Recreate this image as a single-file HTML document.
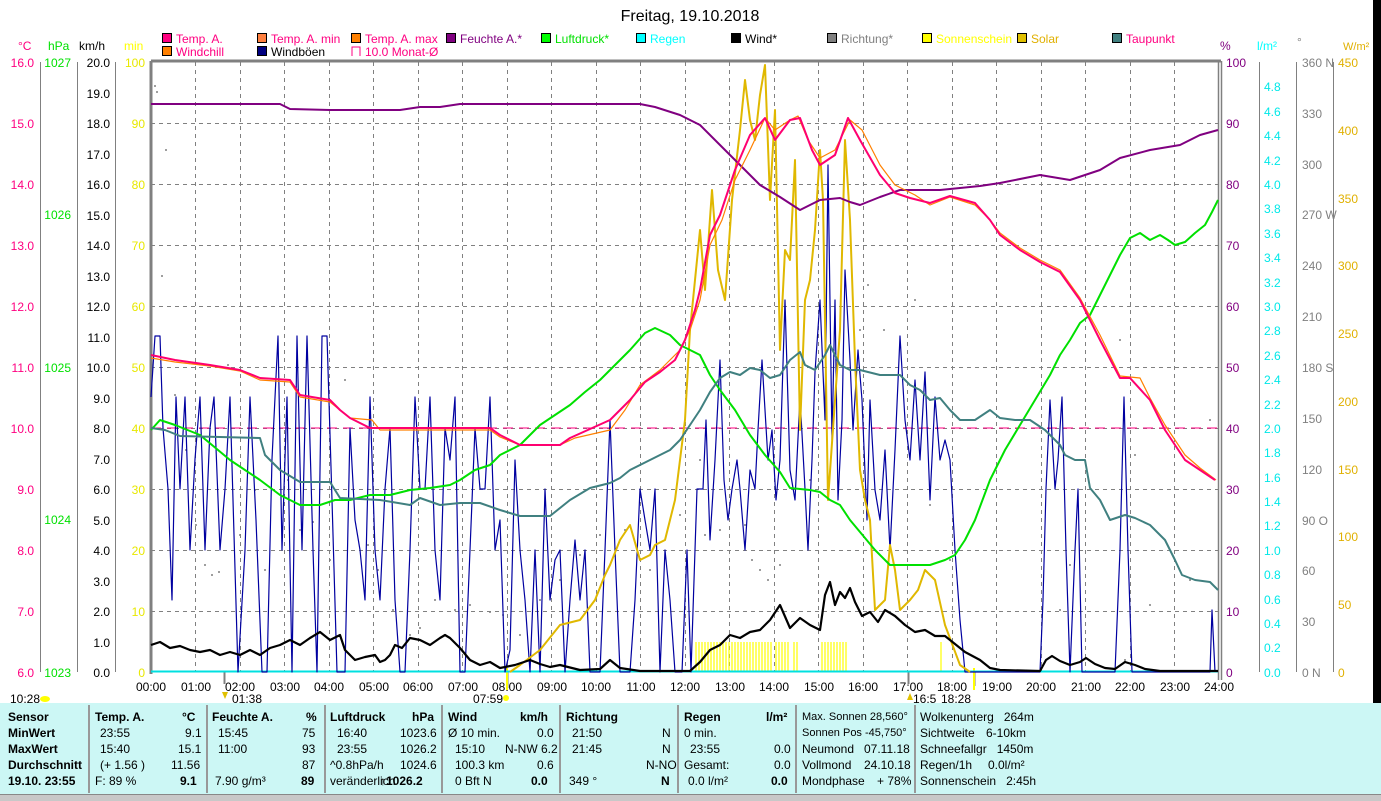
<!DOCTYPE html>
<html><head><meta charset="utf-8"><style>
body{margin:0;width:1381px;height:800px;overflow:hidden;background:#fff;font-family:"Liberation Sans",sans-serif;}
.t{position:absolute;font-size:12px;white-space:nowrap;line-height:13px}
</style></head><body>
<svg width="1381" height="800" style="position:absolute;left:0;top:0" font-family="Liberation Sans, sans-serif" font-size="12">
<rect x="1373" y="0" width="8" height="703" fill="#000"/>
<text x="690" y="21" font-size="16" text-anchor="middle">Freitag, 19.10.2018</text>
<g stroke="#000" stroke-width="1">
<rect x="162.5" y="33.5" width="9" height="9" fill="#ff0080"/><rect x="257.5" y="33.5" width="9" height="9" fill="#ff8040"/><rect x="351.5" y="33.5" width="9" height="9" fill="#ff8000"/><rect x="446.5" y="33.5" width="9" height="9" fill="#800080"/><rect x="541.5" y="33.5" width="9" height="9" fill="#00ff00"/><rect x="636.5" y="33.5" width="9" height="9" fill="#00ffff"/><rect x="731.5" y="33.5" width="9" height="9" fill="#000"/><rect x="827.5" y="33.5" width="9" height="9" fill="#808080"/><rect x="922.5" y="33.5" width="9" height="9" fill="#ffff00"/><rect x="1017.5" y="33.5" width="9" height="9" fill="#e0c000"/><rect x="1112.5" y="33.5" width="9" height="9" fill="#408080"/>
<rect x="162.5" y="46.5" width="9" height="9" fill="#ff8000"/><rect x="257.5" y="46.5" width="9" height="9" fill="#000080"/>
</g>
<path d="M352 56V47H360V56" fill="none" stroke="#ff0080"/>
<g font-size="12">
<text x="176" y="43" fill="#ff0080">Temp. A.</text><text x="271" y="43" fill="#ff0080">Temp. A. min</text><text x="365" y="43" fill="#ff0080">Temp. A. max</text><text x="460" y="43" fill="#800080">Feuchte A.*</text><text x="555" y="43" fill="#00e000">Luftdruck*</text><text x="650" y="43" fill="#00ffff">Regen</text><text x="745" y="43">Wind*</text><text x="841" y="43" fill="#808080">Richtung*</text><text x="936" y="43" fill="#ffff00">Sonnenschein</text><text x="1031" y="43" fill="#e0b000">Solar</text><text x="1126" y="43" fill="#ff0080">Taupunkt</text>
<text x="176" y="56" fill="#ff0080">Windchill</text><text x="271" y="56">Windböen</text><text x="365" y="56" fill="#ff0080">10.0 Monat-Ø</text>
<text x="18" y="50" fill="#ff0080">°C</text><text x="48" y="50" fill="#00e000">hPa</text><text x="79" y="50">km/h</text><text x="124" y="50" fill="#ffff00">min</text>
<text x="1220" y="50" fill="#800080">%</text><text x="1257" y="50" fill="#00ffff">l/m²</text><text x="1297" y="46" fill="#808080">°</text><text x="1343" y="50" fill="#e0b000" font-size="11">W/m²</text>
</g>
<g stroke="#808080" stroke-dasharray="4,4" stroke-width="1">
<path d="M151 123.5H1218M151 184.5H1218M151 245.5H1218M151 306.5H1218M151 367.5H1218M151 428.5H1218M151 489.5H1218M151 550.5H1218M151 611.5H1218"/>
<path d="M195.5 62V672M240.5 62V672M284.5 62V672M329.5 62V672M373.5 62V672M418.5 62V672M462.5 62V672M507.5 62V672M551.5 62V672M596.5 62V672M640.5 62V672M685.5 62V672M729.5 62V672M774.5 62V672M818.5 62V672M863.5 62V672M907.5 62V672M952.5 62V672M996.5 62V672M1041.5 62V672M1085.5 62V672M1130.5 62V672M1174.5 62V672"/>
</g>
<g stroke="#808080" fill="none">
<path d="M151 61H1221M151 61V674" stroke-width="3"/>
<path d="M1218.5 61V680M1221.5 61V680" stroke-width="1.5"/>
<path d="M40.5 62V672M77.5 62V672M115.5 62V672M1259.5 62V672M1296.5 62V672M1333.5 62V672"/>
</g>
<g text-anchor="end" font-size="12">
<g fill="#ff0080"><text x="34" y="67">16.0</text><text x="34" y="128">15.0</text><text x="34" y="189">14.0</text><text x="34" y="250">13.0</text><text x="34" y="311">12.0</text><text x="34" y="372">11.0</text><text x="34" y="433">10.0</text><text x="34" y="494">9.0</text><text x="34" y="555">8.0</text><text x="34" y="616">7.0</text><text x="34" y="677">6.0</text></g>
<g fill="#00e000"><text x="71" y="67">1027</text><text x="71" y="219">1026</text><text x="71" y="372">1025</text><text x="71" y="524">1024</text><text x="71" y="677">1023</text></g>
<g><text x="110" y="67">20.0</text><text x="110" y="98">19.0</text><text x="110" y="128">18.0</text><text x="110" y="159">17.0</text><text x="110" y="189">16.0</text><text x="110" y="220">15.0</text><text x="110" y="250">14.0</text><text x="110" y="281">13.0</text><text x="110" y="311">12.0</text><text x="110" y="342">11.0</text><text x="110" y="372">10.0</text><text x="110" y="403">9.0</text><text x="110" y="433">8.0</text><text x="110" y="464">7.0</text><text x="110" y="494">6.0</text><text x="110" y="525">5.0</text><text x="110" y="555">4.0</text><text x="110" y="586">3.0</text><text x="110" y="616">2.0</text><text x="110" y="647">1.0</text><text x="110" y="677">0.0</text></g>
<g fill="#e8e800"><text x="145" y="67">100</text><text x="145" y="128">90</text><text x="145" y="189">80</text><text x="145" y="250">70</text><text x="145" y="311">60</text><text x="145" y="372">50</text><text x="145" y="433">40</text><text x="145" y="494">30</text><text x="145" y="555">20</text><text x="145" y="616">10</text><text x="145" y="677">0</text></g>
</g>
<g font-size="12">
<g fill="#800080"><text x="1226" y="67">100</text><text x="1226" y="128">90</text><text x="1226" y="189">80</text><text x="1226" y="250">70</text><text x="1226" y="311">60</text><text x="1226" y="372">50</text><text x="1226" y="433">40</text><text x="1226" y="494">30</text><text x="1226" y="555">20</text><text x="1226" y="616">10</text><text x="1226" y="677">0</text></g>
<g fill="#00e8e8"><text x="1264" y="91">4.8</text><text x="1264" y="116">4.6</text><text x="1264" y="140">4.4</text><text x="1264" y="165">4.2</text><text x="1264" y="189">4.0</text><text x="1264" y="213">3.8</text><text x="1264" y="238">3.6</text><text x="1264" y="262">3.4</text><text x="1264" y="287">3.2</text><text x="1264" y="311">3.0</text><text x="1264" y="335">2.8</text><text x="1264" y="360">2.6</text><text x="1264" y="384">2.4</text><text x="1264" y="409">2.2</text><text x="1264" y="433">2.0</text><text x="1264" y="457">1.8</text><text x="1264" y="482">1.6</text><text x="1264" y="506">1.4</text><text x="1264" y="530">1.2</text><text x="1264" y="555">1.0</text><text x="1264" y="579">0.8</text><text x="1264" y="604">0.6</text><text x="1264" y="628">0.4</text><text x="1264" y="652">0.2</text><text x="1264" y="677">0.0</text></g>
<g fill="#808080"><text x="1302" y="67">360 N</text><text x="1302" y="118">330</text><text x="1302" y="169">300</text><text x="1302" y="219">270 W</text><text x="1302" y="270">240</text><text x="1302" y="321">210</text><text x="1302" y="372">180 S</text><text x="1302" y="423">150</text><text x="1302" y="474">120</text><text x="1302" y="525">90 O</text><text x="1302" y="575">60</text><text x="1302" y="626">30</text><text x="1302" y="677">0 N</text></g>
<g fill="#e0b000"><text x="1338" y="67">450</text><text x="1338" y="135">400</text><text x="1338" y="203">350</text><text x="1338" y="270">300</text><text x="1338" y="338">250</text><text x="1338" y="406">200</text><text x="1338" y="474">150</text><text x="1338" y="541">100</text><text x="1338" y="609">50</text><text x="1338" y="677">0</text></g>
</g>
<g text-anchor="middle" font-size="12">
<text x="151" y="691">00:00</text><text x="196" y="691">01:00</text><text x="240" y="691">02:00</text><text x="285" y="691">03:00</text><text x="329" y="691">04:00</text><text x="374" y="691">05:00</text><text x="418" y="691">06:00</text><text x="463" y="691">07:00</text><text x="507" y="691">08:00</text><text x="552" y="691">09:00</text><text x="596" y="691">10:00</text><text x="641" y="691">11:00</text><text x="685" y="691">12:00</text><text x="730" y="691">13:00</text><text x="774" y="691">14:00</text><text x="819" y="691">15:00</text><text x="863" y="691">16:00</text><text x="908" y="691">17:00</text><text x="952" y="691">18:00</text><text x="997" y="691">19:00</text><text x="1041" y="691">20:00</text><text x="1086" y="691">21:00</text><text x="1130" y="691">22:00</text><text x="1175" y="691">23:00</text><text x="1219" y="691">24:00</text>
</g>
<g font-size="12"><text x="10" y="703">10:28</text><text x="232" y="703">01:38</text><text x="473" y="703">07:59</text><text x="913" y="703">16:5</text><text x="941" y="703">18:28</text></g>
<ellipse cx="45" cy="699" rx="5" ry="3" fill="#ffff00"/><circle cx="506" cy="698" r="3" fill="#ffff00"/><path d="M222 692l3 7 3-7z" fill="#e0c000"/><path d="M907 700l3-7 3 7z" fill="#e0c000"/>
<path d="M224.5 672V684M507.5 672V688M908.5 672V684M974.5 672V686" stroke="#808080" stroke-width="2"/>
<path d="M507 668V690M974 668V690" stroke="#ffff00" stroke-width="2"/>
<g stroke="#ffff00" stroke-width="1.2">
<path d="M696 642V672M699 642V672M702 642V672M705 642V672M708 642V672M711 642V672M714 642V672M717 642V672M720 642V672M723 642V672M726 642V672M729 642V672M732 642V672M735 642V672M738 642V672M741 642V672M744 642V672M747 642V672M750 642V672M753 642V672M756 642V672M759 642V672M762 642V672M765 642V672M768 642V672M771 642V672M776 642V672M779 642V672M782 642V672M785 642V672M788 642V672M794 642V672M797 642V672M822 642V672M825 642V672M828 642V672M831 642V672M834 642V672M837 642V672M840 642V672M843 642V672M846 642V672M941 642V672"/>
</g>
<path d="M151 428H1218" stroke="#ff0080" stroke-dasharray="10,6" stroke-width="1"/>
<path d="M151 671.5H1218" stroke="#00e0e0" stroke-width="2"/>
<g fill="#808080">
<circle cx="155" cy="86" r="1"/><circle cx="157" cy="92" r="1"/><circle cx="166" cy="150" r="1"/><circle cx="162" cy="276" r="1"/><circle cx="175" cy="395" r="1"/><circle cx="186" cy="450" r="1"/><circle cx="196" cy="525" r="1"/><circle cx="205" cy="565" r="1"/><circle cx="212" cy="575" r="1"/><circle cx="219" cy="572" r="1"/><circle cx="228" cy="365" r="1"/><circle cx="240" cy="535" r="1"/><circle cx="255" cy="490" r="1"/><circle cx="265" cy="570" r="1"/><circle cx="288" cy="480" r="1"/><circle cx="300" cy="530" r="1"/><circle cx="313" cy="522" r="1"/><circle cx="330" cy="560" r="1"/><circle cx="345" cy="380" r="1"/><circle cx="368" cy="545" r="1"/><circle cx="378" cy="570" r="1"/><circle cx="393" cy="610" r="1"/><circle cx="410" cy="635" r="1"/><circle cx="420" cy="628" r="1"/><circle cx="435" cy="600" r="1"/><circle cx="455" cy="610" r="1"/><circle cx="470" cy="605" r="1"/><circle cx="490" cy="612" r="1"/><circle cx="503" cy="615" r="1"/><circle cx="520" cy="635" r="1"/><circle cx="540" cy="600" r="1"/><circle cx="560" cy="580" r="1"/><circle cx="580" cy="555" r="1"/><circle cx="600" cy="535" r="1"/><circle cx="625" cy="530" r="1"/><circle cx="650" cy="570" r="1"/><circle cx="680" cy="515" r="1"/><circle cx="700" cy="460" r="1"/><circle cx="705" cy="535" r="1"/><circle cx="720" cy="530" r="1"/><circle cx="745" cy="525" r="1"/><circle cx="752" cy="560" r="1"/><circle cx="760" cy="570" r="1"/><circle cx="768" cy="580" r="1"/><circle cx="780" cy="565" r="1"/><circle cx="810" cy="480" r="1"/><circle cx="860" cy="330" r="1"/><circle cx="868" cy="285" r="1"/><circle cx="884" cy="330" r="1"/><circle cx="915" cy="300" r="1"/><circle cx="930" cy="505" r="1"/><circle cx="950" cy="560" r="1"/><circle cx="1070" cy="565" r="1"/><circle cx="1060" cy="610" r="1"/><circle cx="1125" cy="660" r="1"/><circle cx="1135" cy="455" r="1"/><circle cx="1120" cy="340" r="1"/><circle cx="1210" cy="420" r="1"/><circle cx="1190" cy="580" r="1"/><circle cx="1150" cy="605" r="1"/>
</g>
<g fill="none" stroke-linejoin="round">
<polyline stroke="#0000a0" stroke-width="1.2" points="151,397 155,336 160,336 163,428 168,489 172,600 176,397 180,489 185,397 190,550 195,459 200,397 205,550 210,428 214,397 220,550 225,489 230,397 238,672 245,550 250,397 256,520 262,672 267,672 272,459 278,336 282,550 287,397 292,672 297,336 302,550 307,336 313,550 317,672 322,336 327,336 332,500 337,672 345,672 350,428 355,520 360,550 365,600 370,397 375,550 380,600 385,489 390,428 395,600 400,672 405,672 410,550 415,397 420,489 425,489 430,397 435,550 440,600 445,428 450,460 455,397 460,672 465,672 470,550 475,428 480,489 485,489 490,397 495,550 500,520 505,672 510,650 515,460 520,550 525,600 530,672 535,550 540,672 545,489 550,600 555,560 560,550 565,672 570,600 575,540 580,600 585,550 590,672 600,672 605,550 610,420 615,550 620,672 630,672 635,600 640,489 645,520 650,550 655,489 660,672 665,550 670,600 675,672 682,672 687,550 691,672 697,489 703,489 706,420 710,540 715,460 720,360 724,480 728,520 732,489 737,460 740,489 745,550 750,470 755,489 758,430 762,360 768,460 772,430 776,500 780,460 785,300 790,470 795,500 800,397 805,489 808,550 812,460 815,372 820,300 825,420 828,165 832,440 835,300 838,500 842,420 845,270 850,360 853,430 858,350 862,400 867,520 870,400 875,490 880,520 885,450 890,550 895,450 900,336 905,420 910,460 915,380 920,460 925,372 930,500 935,397 940,460 945,440 950,460 955,550 960,620 965,672 1040,672 1043,600 1046,489 1050,400 1055,489 1058,460 1062,397 1066,550 1070,672 1075,550 1078,489 1082,672 1115,672 1120,550 1124,397 1128,550 1132,672 1210,672 1212,610 1215,672"/>
<polyline stroke="#e0b800" stroke-width="2" points="510,672 520,665 540,650 560,625 580,620 595,600 605,575 610,565 620,540 630,525 640,560 650,555 655,545 665,540 675,500 685,420 690,330 695,280 700,230 705,290 712,190 718,270 725,300 732,200 740,130 745,80 750,120 755,140 760,95 765,65 770,200 775,110 780,350 785,250 790,260 795,160 800,430 805,300 810,280 815,230 820,150 823,200 828,500 835,400 840,330 845,140 850,220 855,360 860,470 865,500 870,520 875,610 885,600 890,545 895,570 900,610 910,600 918,590 925,570 935,580 945,625 960,665 970,672"/>
<polyline stroke="#800080" stroke-width="2" points="151,104 280,104 290,109 330,110 400,110 420,107 440,107 460,104 640,104 655,107 680,115 700,125 720,145 740,165 760,185 780,197 800,210 820,200 840,198 850,202 860,205 880,197 900,190 940,190 980,186 1000,183 1040,175 1070,180 1100,170 1120,158 1150,150 1180,145 1200,135 1218,130"/>
<polyline stroke="#00e000" stroke-width="2" points="151,430 160,420 175,425 200,435 230,460 260,480 280,495 300,505 320,505 335,500 350,500 370,495 390,495 410,490 430,488 450,485 460,480 475,470 490,465 500,455 510,450 520,445 530,435 540,425 555,415 570,405 585,392 600,380 615,365 630,350 645,333 655,328 670,335 680,345 700,355 710,375 720,390 735,410 750,435 765,455 780,472 790,488 810,490 820,492 830,500 840,505 850,520 860,532 875,550 890,565 910,565 930,565 945,560 955,555 965,540 975,520 990,480 1005,450 1020,425 1035,400 1050,375 1060,355 1070,340 1080,323 1090,315 1100,295 1110,275 1120,255 1130,238 1140,233 1150,240 1160,235 1168,240 1175,245 1185,242 1195,233 1205,225 1212,212 1218,200"/>
<polyline stroke="#408080" stroke-width="2" points="151,428 165,430 180,436 260,438 265,455 280,470 300,482 330,482 340,498 380,500 410,505 420,498 440,505 460,503 480,503 500,510 520,516 550,516 570,500 590,488 610,483 620,478 630,470 650,460 670,450 680,440 690,425 700,410 710,392 720,378 730,372 740,375 750,368 760,370 770,378 780,375 790,360 800,352 805,365 815,370 825,355 830,345 840,365 850,370 860,370 880,375 900,375 910,385 920,390 930,400 940,398 950,410 960,420 975,420 990,410 1000,418 1015,420 1030,420 1045,430 1055,440 1060,445 1065,455 1075,460 1085,460 1090,488 1100,500 1110,520 1125,515 1135,518 1150,525 1165,540 1175,560 1182,575 1195,580 1210,582 1218,590"/>
<polyline stroke="#ff8000" stroke-width="1.2" points="151,358 175,362 210,366 240,371 260,380 290,382 300,397 330,402 340,410 350,418 372,420 380,430 490,430 500,437 520,445 560,445 575,438 610,430 625,410 640,385 660,370 680,350 690,330 700,300 710,245 722,220 735,180 750,150 765,118 775,130 790,120 798,116 808,140 820,158 835,150 850,120 862,130 880,165 895,185 915,195 930,205 950,197 975,205 990,220 1000,233 1020,248 1040,260 1060,270 1080,298 1100,335 1120,376 1140,378 1150,398 1165,425 1185,455 1200,468 1216,480"/>
<polyline stroke="#ff0070" stroke-width="2" points="151,355 175,360 210,365 240,370 260,378 290,380 300,395 330,400 340,410 350,418 370,428 490,428 500,435 520,445 560,445 570,438 610,420 630,400 645,382 660,372 675,360 685,340 695,310 700,290 710,235 720,215 735,170 750,135 765,118 775,140 790,120 800,118 812,150 820,165 835,155 848,118 860,140 880,175 895,193 910,198 930,203 950,196 975,203 990,220 1000,235 1020,250 1040,262 1060,272 1080,300 1100,340 1120,378 1130,378 1150,400 1165,430 1185,460 1200,470 1215,480"/>
<polyline stroke="#000" stroke-width="2.2" points="151,645 160,642 170,648 180,646 190,650 200,652 210,650 220,655 230,652 240,655 250,650 260,655 270,648 280,645 290,640 300,645 310,638 320,632 330,640 340,635 345,650 355,660 365,657 375,655 380,662 385,660 390,655 395,645 402,648 410,638 420,640 430,645 440,638 445,635 450,638 460,648 470,660 480,665 490,662 500,668 515,665 530,660 540,664 550,667 560,665 580,670 600,669 610,660 620,668 640,671 690,671 700,662 710,650 720,645 730,635 740,638 750,632 760,630 770,620 780,605 790,628 800,618 810,625 820,630 825,595 830,582 835,605 840,592 845,598 850,588 855,602 862,616 870,612 878,622 885,610 895,616 905,625 915,632 925,630 935,636 945,636 955,644 965,652 980,660 990,668 1000,670 1040,671 1046,660 1052,656 1060,661 1070,665 1080,662 1086,658 1095,664 1105,668 1115,669 1125,662 1135,665 1145,669 1160,671 1218,671"/>
</g>
</svg>
<div style="position:absolute;left:0;top:703px;width:1381px;height:92px;background:#ccf7f5"></div>
<div style="position:absolute;left:0;top:794px;width:1381px;height:6px;background:#c8c8c8;border-top:1px solid #888"></div>
<div style="position:absolute;top:705px;height:88px;left:88px;border-left:2px solid #999"></div>
<div style="position:absolute;top:705px;height:88px;left:206px;border-left:2px solid #999"></div>
<div style="position:absolute;top:705px;height:88px;left:324px;border-left:2px solid #999"></div>
<div style="position:absolute;top:705px;height:88px;left:441px;border-left:2px solid #999"></div>
<div style="position:absolute;top:705px;height:88px;left:559px;border-left:2px solid #999"></div>
<div style="position:absolute;top:705px;height:88px;left:677px;border-left:2px solid #999"></div>
<div style="position:absolute;top:705px;height:88px;left:795px;border-left:2px solid #999"></div>
<div style="position:absolute;top:705px;height:88px;left:914px;border-left:2px solid #999"></div>
<div style="font-weight:bold">
<div class="t" style="left:8px;top:711px">Sensor</div><div class="t" style="left:8px;top:727px">MinWert</div><div class="t" style="left:8px;top:743px">MaxWert</div><div class="t" style="left:8px;top:759px">Durchschnitt</div><div class="t" style="left:8px;top:775px">19.10. 23:55</div>
<div class="t" style="left:95px;top:711px">Temp. A.</div><div class="t" style="left:182px;top:711px">°C</div>
<div class="t" style="left:212px;top:711px">Feuchte A.</div><div class="t" style="left:306px;top:711px">%</div>
<div class="t" style="left:330px;top:711px">Luftdruck</div><div class="t" style="left:412px;top:711px">hPa</div>
<div class="t" style="left:448px;top:711px">Wind</div><div class="t" style="left:520px;top:711px">km/h</div>
<div class="t" style="left:566px;top:711px">Richtung</div>
<div class="t" style="left:684px;top:711px">Regen</div><div class="t" style="left:766px;top:711px">l/m²</div>
<div class="t" style="left:180px;top:775px">9.1</div><div class="t" style="left:301px;top:775px">89</div><div class="t" style="left:380px;top:775px">↑1026.2</div><div class="t" style="left:531px;top:775px">0.0</div><div class="t" style="left:661px;top:775px">N</div><div class="t" style="left:771px;top:775px">0.0</div>
</div>
<div class="t" style="left:100px;top:727px">23:55</div><div class="t" style="left:185px;top:727px">9.1</div>
<div class="t" style="left:100px;top:743px">15:40</div><div class="t" style="left:178px;top:743px">15.1</div>
<div class="t" style="left:100px;top:759px">(+ 1.56 )</div><div class="t" style="left:171px;top:759px">11.56</div>
<div class="t" style="left:95px;top:775px">F: 89 %</div>
<div class="t" style="left:218px;top:727px">15:45</div><div class="t" style="left:302px;top:727px">75</div>
<div class="t" style="left:218px;top:743px">11:00</div><div class="t" style="left:302px;top:743px">93</div>
<div class="t" style="left:302px;top:759px">87</div>
<div class="t" style="left:215px;top:775px">7.90 g/m³</div>
<div class="t" style="left:337px;top:727px">16:40</div><div class="t" style="left:400px;top:727px">1023.6</div>
<div class="t" style="left:337px;top:743px">23:55</div><div class="t" style="left:400px;top:743px">1026.2</div>
<div class="t" style="left:330px;top:759px">^0.8hPa/h</div><div class="t" style="left:400px;top:759px">1024.6</div>
<div class="t" style="left:330px;top:775px">veränderlich</div>
<div class="t" style="left:448px;top:727px">Ø 10 min.</div><div class="t" style="left:537px;top:727px">0.0</div>
<div class="t" style="left:455px;top:743px">15:10</div><div class="t" style="left:505px;top:743px">N-NW 6.2</div>
<div class="t" style="left:455px;top:759px">100.3 km</div><div class="t" style="left:537px;top:759px">0.6</div>
<div class="t" style="left:455px;top:775px">0 Bft N</div>
<div class="t" style="left:572px;top:727px">21:50</div><div class="t" style="left:662px;top:727px">N</div>
<div class="t" style="left:572px;top:743px">21:45</div><div class="t" style="left:662px;top:743px">N</div>
<div class="t" style="left:646px;top:759px">N-NO</div>
<div class="t" style="left:569px;top:775px">349 °</div>
<div class="t" style="left:684px;top:727px">0 min.</div>
<div class="t" style="left:690px;top:743px">23:55</div><div class="t" style="left:774px;top:743px">0.0</div>
<div class="t" style="left:684px;top:759px">Gesamt:</div><div class="t" style="left:774px;top:759px">0.0</div>
<div class="t" style="left:688px;top:775px">0.0 l/m²</div>
<div class="t" style="left:802px;top:711px;font-size:11px">Max. Sonnen 28,560°</div>
<div class="t" style="left:802px;top:727px;font-size:11px">Sonnen Pos -45,750°</div>
<div class="t" style="left:802px;top:743px">Neumond</div><div class="t" style="left:864px;top:743px">07.11.18</div>
<div class="t" style="left:802px;top:759px">Vollmond</div><div class="t" style="left:864px;top:759px">24.10.18</div>
<div class="t" style="left:802px;top:775px">Mondphase</div><div class="t" style="left:877px;top:775px">+ 78%</div>
<div class="t" style="left:920px;top:711px">Wolkenunterg&nbsp;&nbsp; 264m</div>
<div class="t" style="left:920px;top:727px">Sichtweite</div><div class="t" style="left:986px;top:727px">6-10km</div>
<div class="t" style="left:920px;top:743px">Schneefallgr&nbsp;&nbsp; 1450m</div>
<div class="t" style="left:920px;top:759px">Regen/1h</div><div class="t" style="left:988px;top:759px">0.0l/m²</div>
<div class="t" style="left:920px;top:775px">Sonnenschein&nbsp;&nbsp; 2:45h</div>
</body></html>
